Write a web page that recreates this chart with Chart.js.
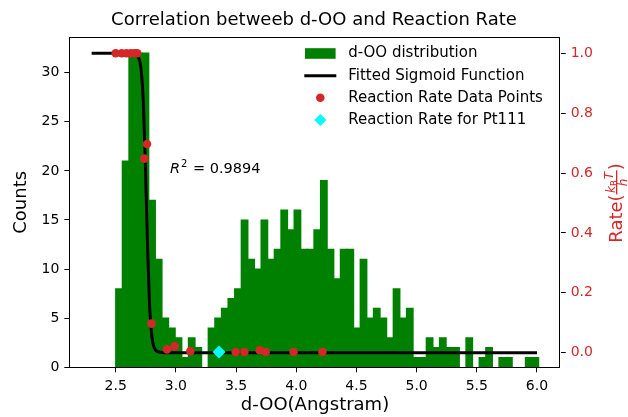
<!DOCTYPE html>
<html lang="en">
<head>
<meta charset="utf-8">
<title>Correlation betweeb d-OO and Reaction Rate</title>
<script src="https://cdn.jsdelivr.net/npm/chart.js@4.4.1/dist/chart.umd.min.js"></script>
<style>
  body { margin: 0; background: #fff; }
  #wrap { width: 628px; height: 417px; }
</style>
</head>
<body>
<div id="wrap"><canvas id="rateChart" width="628" height="417"></canvas></div>
<script>
// d-OO histogram: 64 bins starting at 2.5 Angstrom
var binStart = 2.5;
var binWidth = 0.0549;
var counts = [8, 21, 32, 32, 32, 17, 11, 5, 4, 3, 1, 3, 2, 0, 4, 5, 6, 7, 8, 15,
              11, 10, 15, 11, 12, 16, 14, 16, 12, 12, 14, 19, 12, 9, 12, 12, 4, 11, 5, 6,
              5, 3, 8, 5, 6, 1, 1, 3, 2, 3, 2, 2, 0, 3, 0, 1, 2, 0, 1, 1,
              0, 0, 1, 1];

// reaction rate data points (right axis)
var rateX = [2.500, 2.550, 2.589, 2.625, 2.655, 2.679, 2.738, 2.760, 2.797, 2.926,
             2.990, 3.120, 3.497, 3.569, 3.696, 3.746, 3.978, 4.217];
var rateY = [1.0, 1.0, 1.0, 1.0, 1.0, 1.0, 0.648, 0.697, 0.097, 0.011,
             0.021, 0.005, 0.002, 0.002, 0.008, 0.002, 0.002, 0.002];

// reaction rate for Pt111
var ptX = [3.358];
var ptY = [0.002];

// fitted sigmoid
var fitX = [2.30, 2.60, 2.66, 2.69, 2.71, 2.73, 2.745, 2.755, 2.765, 2.78, 2.80, 2.82, 2.85, 2.90, 6.00];
var fitY = [1.0, 1.0, 0.998, 0.985, 0.95, 0.83, 0.65, 0.50, 0.35, 0.17, 0.055, 0.016, 0.003, 0.0, 0.0];

var xTicks = [2.5, 3.0, 3.5, 4.0, 4.5, 5.0, 5.5, 6.0];
var countTicks = [0, 5, 10, 15, 20, 25, 30];
var rateTicks = [0.0, 0.2, 0.4, 0.6, 0.8, 1.0];

var RED = '#d62728';
Chart.defaults.font.family = 'DejaVu Sans';
Chart.defaults.color = '#000';

// empty bins are left out so they draw nothing
var histData = counts.map(function (c, i) {
  return { x: binStart + (i + 0.5) * binWidth, y: c > 0 ? c : null };
});
var fitData = fitX.map(function (x, i) { return { x: x, y: fitY[i] }; });
var rateData = rateX.map(function (x, i) { return { x: x, y: rateY[i] }; });
var ptData = ptX.map(function (x, i) { return { x: x, y: ptY[i] }; });

var legendItems = [
  { kind: 'box', color: 'green', text: 'd-OO distribution' },
  { kind: 'line', color: '#000', text: 'Fitted Sigmoid Function' },
  { kind: 'dot', color: RED, text: 'Reaction Rate Data Points' },
  { kind: 'diamond', color: 'cyan', text: 'Reaction Rate for Pt111' }
];

var extras = {
  id: 'extras',
  beforeDraw: function (chart) {
    var ctx = chart.ctx;
    ctx.save();
    ctx.fillStyle = '#fff';
    ctx.fillRect(0, 0, chart.width, chart.height);
    ctx.restore();
  },
  afterDraw: function (chart) {
    var ctx = chart.ctx;
    var a = chart.chartArea;
    ctx.save();

    // frame
    ctx.strokeStyle = '#000';
    ctx.lineWidth = 1;
    ctx.strokeRect(Math.round(a.left) + 0.5, Math.round(a.top) + 0.5,
                   Math.round(a.right - a.left) - 1, Math.round(a.bottom - a.top));

    // legend
    ctx.font = '15px "DejaVu Sans"';
    ctx.textBaseline = 'middle';
    ctx.textAlign = 'left';
    legendItems.forEach(function (it, i) {
      var cy = a.top + 16.2 + i * 22.15;
      var hx = a.right - 240.4;
      if (it.kind === 'box') {
        ctx.fillStyle = it.color;
        ctx.fillRect(hx - 15.3, cy - 5.3, 30.6, 10.6);
      } else if (it.kind === 'line') {
        ctx.strokeStyle = it.color;
        ctx.lineWidth = 3;
        ctx.beginPath();
        ctx.moveTo(hx - 16, cy);
        ctx.lineTo(hx + 16, cy);
        ctx.stroke();
      } else if (it.kind === 'dot') {
        ctx.fillStyle = it.color;
        ctx.beginPath();
        ctx.arc(hx, cy, 4.3, 0, Math.PI * 2);
        ctx.fill();
      } else {
        ctx.fillStyle = it.color;
        ctx.beginPath();
        ctx.moveTo(hx, cy - 6);
        ctx.lineTo(hx + 6, cy);
        ctx.lineTo(hx, cy + 6);
        ctx.lineTo(hx - 6, cy);
        ctx.closePath();
        ctx.fill();
      }
      ctx.fillStyle = '#000';
      ctx.fillText(it.text, a.right - 212.5, cy);
    });

    // R^2 annotation
    var tx = chart.scales.x.getPixelForValue(2.95);
    var ty = chart.scales.y1.getPixelForValue(0.6);
    ctx.textBaseline = 'alphabetic';
    ctx.fillStyle = '#000';
    ctx.font = 'italic 14.5px "DejaVu Sans"';
    ctx.fillText('R', tx, ty);
    var w = ctx.measureText('R').width;
    ctx.font = '10px "DejaVu Sans"';
    ctx.fillText('2', tx + w + 1, ty - 6);
    w += 1 + ctx.measureText('2').width;
    ctx.font = '14.5px "DejaVu Sans"';
    ctx.fillText(' = 0.9894', tx + w + 1, ty);

    // right axis title: Rate(kBT/h)
    ctx.translate(614, 203);
    ctx.rotate(-Math.PI / 2);
    ctx.fillStyle = RED;
    var big = '18px "DejaVu Sans"';
    var num = 'italic 12px "DejaVu Sans"';
    var sub = '8.5px "DejaVu Sans"';
    ctx.font = big;
    var wRate = ctx.measureText('Rate(').width;
    var wClose = ctx.measureText(')').width;
    ctx.font = num;
    var wk = ctx.measureText('k').width;
    var wT = ctx.measureText('T').width;
    var wh = ctx.measureText('h').width;
    ctx.font = sub;
    var wB = ctx.measureText('B').width;
    var wNum = wk + wB + wT + 1;
    var wFrac = wNum + 3;
    var total = wRate + wFrac + wClose;
    var x0 = -total / 2;
    var base = 8;
    ctx.font = big;
    ctx.fillText('Rate(', x0, base);
    var fx = x0 + wRate;
    ctx.font = num;
    ctx.fillText('k', fx + 1.5, base - 7.5);
    ctx.font = sub;
    ctx.fillText('B', fx + 1.5 + wk, base - 5);
    ctx.font = num;
    ctx.fillText('T', fx + 2.5 + wk + wB, base - 9);
    ctx.fillRect(fx, base - 6, wFrac, 1.3);
    ctx.fillText('h', fx + (wFrac - wh) / 2, base + 5);
    ctx.font = big;
    ctx.fillText(')', fx + wFrac, base);

    ctx.restore();
  }
};

new Chart(document.getElementById('rateChart'), {
  type: 'bar',
  data: {
    datasets: [{
      type: 'bar',
      data: histData,
      xAxisID: 'x',
      yAxisID: 'y',
      backgroundColor: 'green',
      borderWidth: 0,
      barPercentage: 1.0,
      categoryPercentage: 1.0,
      inflateAmount: 0.6,
      grouped: false,
      order: 4
    }, {
      type: 'line',
      data: fitData,
      xAxisID: 'x',
      yAxisID: 'y1',
      borderColor: '#000',
      borderWidth: 3,
      pointRadius: 0,
      fill: false,
      cubicInterpolationMode: 'monotone',
      order: 3
    }, {
      type: 'line',
      data: rateData,
      xAxisID: 'x',
      yAxisID: 'y1',
      showLine: false,
      pointRadius: 4.3,
      pointBackgroundColor: RED,
      pointBorderWidth: 0,
      order: 2
    }, {
      type: 'line',
      data: ptData,
      xAxisID: 'x',
      yAxisID: 'y1',
      showLine: false,
      pointStyle: 'rectRot',
      pointRadius: 6.5,
      pointBackgroundColor: 'cyan',
      pointBorderWidth: 0,
      order: 1
    }]
  },
  options: {
    responsive: false,
    animation: false,
    devicePixelRatio: 1,
    layout: { padding: 0 },
    plugins: {
      legend: { display: false },
      tooltip: { enabled: false },
      title: {
        display: true,
        text: 'Correlation betweeb d-OO and Reaction Rate',
        font: { size: 18, weight: 'normal' },
        color: '#000',
        padding: { top: 10, bottom: 5.7 }
      }
    },
    scales: {
      x: {
        type: 'linear',
        position: 'bottom',
        min: 2.1144,
        max: 6.197,
        offset: false,
        border: { display: false },
        grid: { offset: false, drawOnChartArea: false, drawTicks: true, tickLength: 5, color: '#000' },
        ticks: {
          font: { size: 14 },
          padding: 6,
          maxRotation: 0,
          callback: function (v) { return v.toFixed(1); }
        },
        afterBuildTicks: function (s) { s.ticks = xTicks.map(function (v) { return { value: v }; }); },
        afterFit: function (s) { s.height = 49.7; },
        title: {
          display: true,
          text: 'd-OO(Angstram)',
          font: { size: 18 },
          color: '#000',
          padding: { top: 0, bottom: 1 }
        }
      },
      y: {
        type: 'linear',
        position: 'left',
        min: 0,
        max: 33.6,
        border: { display: false },
        grid: { drawOnChartArea: false, drawTicks: true, tickLength: 5, color: '#000' },
        ticks: { font: { size: 14 }, padding: 5 },
        afterBuildTicks: function (s) { s.ticks = countTicks.map(function (v) { return { value: v }; }); },
        afterFit: function (s) { s.width = 69.3; },
        title: {
          display: true,
          text: 'Counts',
          font: { size: 18 },
          color: '#000',
          padding: { top: 11, bottom: 0 }
        }
      },
      y1: {
        type: 'linear',
        position: 'right',
        min: -0.049,
        max: 1.0534,
        border: { display: false },
        grid: { drawOnChartArea: false, drawTicks: true, tickLength: 5, color: '#000' },
        ticks: {
          font: { size: 14 },
          color: RED,
          padding: 5,
          callback: function (v) { return v.toFixed(1); }
        },
        afterBuildTicks: function (s) { s.ticks = rateTicks.map(function (v) { return { value: v }; }); },
        afterFit: function (s) { s.width = 67.3; }
      }
    }
  },
  plugins: [extras]
});
</script>
</body>
</html>
